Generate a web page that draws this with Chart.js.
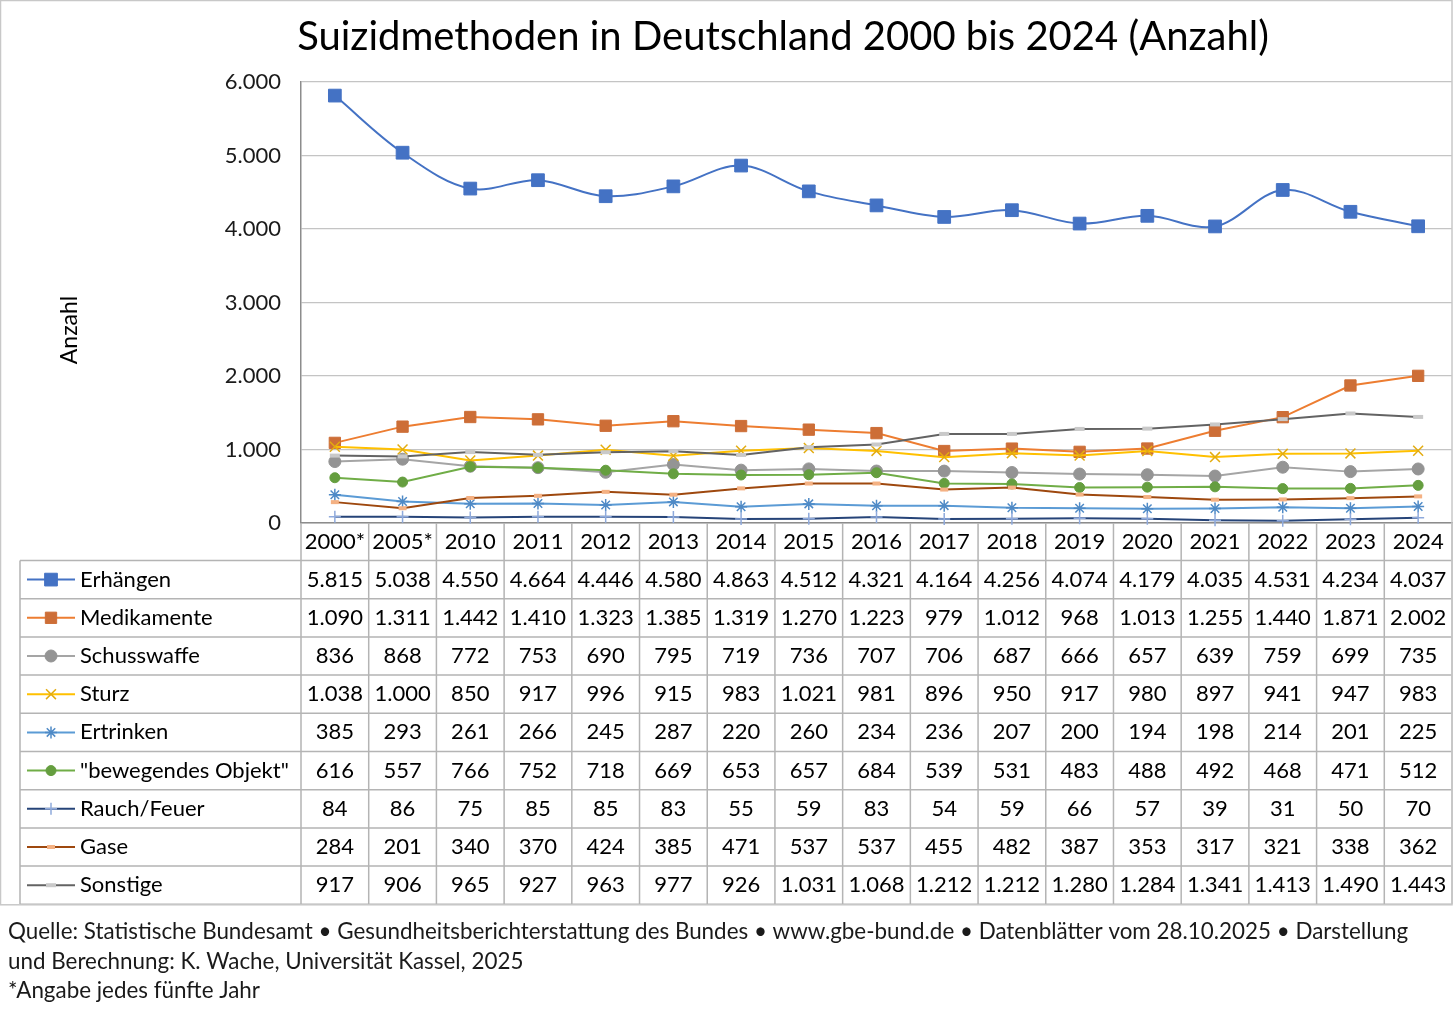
<!DOCTYPE html>
<html lang="de">
<head>
<meta charset="utf-8">
<title>Suizidmethoden in Deutschland 2000 bis 2024</title>
<script src="https://cdn.jsdelivr.net/npm/chart.js@4.4.1/dist/chart.umd.min.js"></script>
<style>
    html, body { margin: 0; padding: 0; background: #fff; overflow: hidden; }
    #wrap { width: 1456px; height: 1010px; position: relative; }
</style>
</head>
<body>
<div id="wrap"><canvas id="chart" width="1456" height="1010"></canvas></div>
<script>
// Data
const years = ['2000*', '2005*', '2010', '2011', '2012', '2013', '2014', '2015', '2016', '2017', '2018', '2019', '2020', '2021', '2022', '2023', '2024'];

const erhaengen   = [5815, 5038, 4550, 4664, 4446, 4580, 4863, 4512, 4321, 4164, 4256, 4074, 4179, 4035, 4531, 4234, 4037];
const medikamente = [1090, 1311, 1442, 1410, 1323, 1385, 1319, 1270, 1223, 979, 1012, 968, 1013, 1255, 1440, 1871, 2002];
const schusswaffe = [836, 868, 772, 753, 690, 795, 719, 736, 707, 706, 687, 666, 657, 639, 759, 699, 735];
const sturz       = [1038, 1000, 850, 917, 996, 915, 983, 1021, 981, 896, 950, 917, 980, 897, 941, 947, 983];
const ertrinken   = [385, 293, 261, 266, 245, 287, 220, 260, 234, 236, 207, 200, 194, 198, 214, 201, 225];
const bewegend    = [616, 557, 766, 752, 718, 669, 653, 657, 684, 539, 531, 483, 488, 492, 468, 471, 512];
const rauchFeuer  = [84, 86, 75, 85, 85, 83, 55, 59, 83, 54, 59, 66, 57, 39, 31, 50, 70];
const gase        = [284, 201, 340, 370, 424, 385, 471, 537, 537, 455, 482, 387, 353, 317, 321, 338, 362];
const sonstige    = [917, 906, 965, 927, 963, 977, 926, 1031, 1068, 1212, 1212, 1280, 1284, 1341, 1413, 1490, 1443];

const seriesNames = ['Erhängen', 'Medikamente', 'Schusswaffe', 'Sturz', 'Ertrinken', '"bewegendes Objekt"', 'Rauch/Feuer', 'Gase', 'Sonstige'];
const seriesValues = [erhaengen, medikamente, schusswaffe, sturz, ertrinken, bewegend, rauchFeuer, gase, sonstige];

const yMin = 0;
const yMax = 6000;
const yStep = 1000;

const titleText = 'Suizidmethoden in Deutschland 2000 bis 2024 (Anzahl)';
const yAxisLabel = 'Anzahl';
const sourceLines = [
    'Quelle: Statistische Bundesamt \u2022 Gesundheitsberichterstattung des Bundes \u2022 www.gbe-bund.de \u2022 Datenblätter vom 28.10.2025 \u2022 Darstellung',
    'und Berechnung: K. Wache, Universität Kassel, 2025',
    '*Angabe jedes fünfte Jahr'
];

// Excel-like styles per series
const styles = [
    { line: '#4472C4', fill: '#4472C4', stroke: '#4472C4', point: 'rect',     radius: 9, bw: 1, tension: 0.35 },
    { line: '#ED7D31', fill: '#CD6E37', stroke: '#CD6E37', point: 'rect',     radius: 8, bw: 1, tension: 0 },
    { line: '#A5A5A5', fill: '#949494', stroke: '#949494', point: 'circle',   radius: 6, bw: 1, tension: 0 },
    { line: '#FFC000', fill: '#FFC000', stroke: '#E3AC10', point: 'crossRot', radius: 7, bw: 1.5, tension: 0 },
    { line: '#5B9BD5', fill: '#5B9BD5', stroke: '#4F8AC6', point: 'star',     radius: 6, bw: 1.5, tension: 0 },
    { line: '#70AD47', fill: '#659E3F', stroke: '#659E3F', point: 'circle',   radius: 5, bw: 1, tension: 0 },
    { line: '#264478', fill: '#8FAADC', stroke: '#8FAADC', point: 'cross',    radius: 6, bw: 1.5, tension: 0 },
    { line: '#9E480E', fill: '#F4B183', stroke: '#F4B183', point: 'line',     radius: 4, bw: 4, tension: 0 },
    { line: '#636363', fill: '#C9C9C9', stroke: '#C9C9C9', point: 'line',     radius: 5, bw: 4, tension: 0 }
];

const FONT = 'Lato, "Open Sans", sans-serif';
const PLOT_RIGHT = 1452;

function fmt(n) {
    return String(n).replace(/\B(?=(\d{3})+(?!\d))/g, '.');
}

const datasets = seriesNames.map((name, i) => ({
    label: name,
    data: seriesValues[i],
    borderColor: styles[i].line,
    backgroundColor: styles[i].line,
    borderWidth: 2,
    tension: styles[i].tension,
    pointStyle: styles[i].point,
    pointRadius: styles[i].radius,
    pointHoverRadius: styles[i].radius,
    pointBackgroundColor: styles[i].fill,
    pointBorderColor: styles[i].stroke,
    pointBorderWidth: styles[i].bw,
    clip: false,
    order: seriesNames.length - i
}));

// Title, frame, data table and source note
const decorations = {
    id: 'decorations',
    beforeDraw(chart) {
        const ctx = chart.ctx;
        ctx.save();
        ctx.fillStyle = '#fff';
        ctx.fillRect(0, 0, chart.width, chart.height);
        ctx.restore();
    },
    afterDraw(chart) {
        const ctx = chart.ctx;
        const xs = chart.scales.x;
        const area = chart.chartArea;
        const colW = (area.right - area.left) / years.length;
        const headerTop = area.bottom;
        const rowTop = headerTop + 37.5;
        const rowH = 38.2;
        const keyLeft = 20;
        const tableBottom = rowTop + rowH * seriesNames.length;

        ctx.save();

        // title
        ctx.fillStyle = '#000';
        ctx.font = '40px ' + FONT;
        ctx.textAlign = 'center';
        ctx.textBaseline = 'middle';
        ctx.fillText(titleText, 783, 37);

        // y axis label
        ctx.save();
        ctx.translate(70, 330);
        ctx.rotate(-Math.PI / 2);
        ctx.font = '23px ' + FONT;
        ctx.fillText(yAxisLabel, 0, 0);
        ctx.restore();

        // table grid
        ctx.strokeStyle = '#b4b4b4';
        ctx.lineWidth = 1.5;
        ctx.beginPath();
        for (let i = 0; i <= years.length; i++) {
            const xx = xs.getPixelForValue(i) - colW / 2;
            ctx.moveTo(xx, headerTop);
            ctx.lineTo(xx, tableBottom);
        }
        for (let r = 0; r <= seriesNames.length; r++) {
            const yy = rowTop + r * rowH;
            ctx.moveTo(keyLeft, yy);
            ctx.lineTo(area.right, yy);
        }
        ctx.moveTo(keyLeft, rowTop);
        ctx.lineTo(keyLeft, tableBottom);
        ctx.stroke();

        // outer frame
        ctx.strokeStyle = '#c8c8c8';
        ctx.lineWidth = 1.5;
        ctx.strokeRect(0.5, 0.5, area.right - 0.5, tableBottom);

        // header row
        ctx.fillStyle = '#000';
        ctx.font = '22px ' + FONT;
        ctx.textAlign = 'center';
        ctx.textBaseline = 'middle';
        years.forEach((yr, i) => {
            ctx.fillText(yr, xs.getPixelForValue(i), headerTop + 19);
        });

        // rows
        seriesNames.forEach((name, r) => {
            const cy = rowTop + r * rowH + rowH / 2;
            const st = styles[r];
            // legend key
            ctx.strokeStyle = st.line;
            ctx.lineWidth = 2;
            ctx.beginPath();
            ctx.moveTo(27, cy);
            ctx.lineTo(75, cy);
            ctx.stroke();
            ctx.fillStyle = st.fill;
            ctx.strokeStyle = st.stroke;
            ctx.lineWidth = st.bw;
            Chart.helpers.drawPoint(ctx, { pointStyle: st.point, radius: st.radius, rotation: 0, borderWidth: st.bw }, 51, cy);

            ctx.fillStyle = '#000';
            ctx.font = '22px ' + FONT;
            ctx.textAlign = 'left';
            ctx.fillText(name, 80, cy);

            ctx.textAlign = 'center';
            seriesValues[r].forEach((v, i) => {
                ctx.fillText(fmt(v), xs.getPixelForValue(i), cy);
            });
        });

        // source note
        ctx.font = '22.4px ' + FONT;
        ctx.textAlign = 'left';
        ctx.fillStyle = '#1a1a1a';
        sourceLines.forEach((line, i) => {
            ctx.fillText(line, 8, 932 + i * 29.5);
        });

        ctx.restore();
    }
};

const ctx = document.getElementById('chart').getContext('2d');
new Chart(ctx, {
    type: 'line',
    data: { labels: years, datasets: datasets },
    plugins: [decorations],
    options: {
        responsive: false,
        animation: false,
        devicePixelRatio: 1,
        layout: {
            autoPadding: false,
            padding: { top: 82, right: 1456 - PLOT_RIGHT, bottom: 487, left: 0 }
        },
        plugins: {
            legend: { display: false },
            tooltip: { enabled: false },
            title: { display: false }
        },
        scales: {
            x: {
                offset: true,
                grid: { display: false, drawTicks: false },
                border: { display: true, color: '#8c8c8c', width: 1.5 },
                ticks: { display: false },
                afterFit: s => { s.height = 0; }
            },
            y: {
                min: yMin,
                max: yMax,
                grid: { color: '#c4c4c4', lineWidth: 1.3, drawTicks: false },
                border: { display: true, color: '#8c8c8c', width: 1.5 },
                ticks: {
                    stepSize: yStep,
                    padding: 20,
                    color: '#1a1a1a',
                    font: { family: FONT, size: 22 },
                    callback: v => fmt(v)
                },
                afterFit: s => { s.width = 301; }
            }
        }
    }
});
</script>
</body>
</html>
